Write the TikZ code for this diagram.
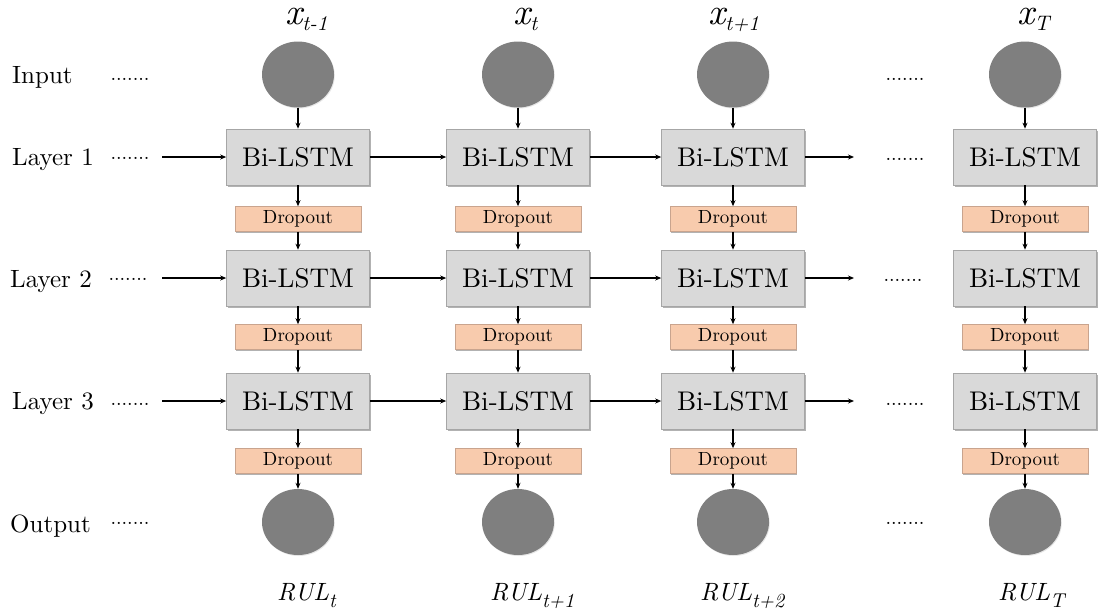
\documentclass[tikz,border=0pt]{standalone}
\usepackage{fontspec}
% the 10pt design of Latin Modern, scaled up, for its heavier strokes
\setmainfont{lmroman10-regular.otf}[ItalicFont=lmroman10-italic.otf]
\usetikzlibrary{shapes.geometric,arrows.meta,shadows}

\definecolor{cellgray}{HTML}{D9D9D9}
\definecolor{cellborder}{HTML}{A6A6A6}
\definecolor{droppeach}{HTML}{F8CBAD}
\definecolor{dropborder}{HTML}{C9A48E}
\definecolor{unitgray}{HTML}{7F7F7F}

\begin{document}
\begin{tikzpicture}[x=1pt,y=-1pt,
  softshadow/.style={drop shadow={shadow xshift=1pt,shadow yshift=-1.5pt,opacity=0.3,fill=black}},
  lstm/.style={rectangle, draw=cellborder, line width=0.6pt, fill=cellgray,
    minimum width=143pt, minimum height=56pt, inner sep=0pt,
    font=\fontsize{27}{32}\selectfont, softshadow},
  dropbox/.style={rectangle, draw=dropborder, line width=0.6pt, fill=droppeach,
    minimum width=126pt, minimum height=25pt, inner sep=0pt,
    font=\fontsize{19}{22}\selectfont, softshadow},
  unit/.style={ellipse, fill=unitgray, minimum width=72pt, minimum height=66pt,
    inner sep=0pt, drop shadow={shadow xshift=0.8pt,shadow yshift=-1pt,opacity=0.2}},
  flow/.style={-{Stealth[length=6pt,width=5pt]}, line width=1.1pt, black},
  rowlabel/.style={anchor=base west, inner sep=0pt, font=\fontsize{25}{30}\selectfont},
  ellipsis/.style={inner sep=0pt, font=\fontsize{20}{24}\selectfont},
  steplabel/.style={anchor=base west, inner sep=0pt}
]
\useasboundingbox (0,0) rectangle (1101,614);

% time steps: one column of the unrolled network per step
\foreach \c/\x in {1/298,2/518,3/733,4/1025}{
  \node[unit]    (in\c)  at (\x,74.5) {};
  \node[lstm]    (a\c)   at (\x,157)  {Bi-LSTM};
  \node[dropbox] (da\c)  at (\x,219)  {Dropout};
  \node[lstm]    (b\c)   at (\x,278)  {Bi-LSTM};
  \node[dropbox] (db\c)  at (\x,337)  {Dropout};
  \node[lstm]    (c\c)   at (\x,401)  {Bi-LSTM};
  \node[dropbox] (dc\c)  at (\x,461)  {Dropout};
  \node[unit]    (out\c) at (\x,522)  {};
  \draw[flow] (in\c) -- (a\c);
  \draw[flow] (a\c) -- (da\c);
  \draw[flow] (da\c) -- (b\c);
  \draw[flow] (b\c) -- (db\c);
  \draw[flow] (db\c) -- (c\c);
  \draw[flow] (c\c) -- (dc\c);
  \draw[flow] (dc\c) -- (out\c);
}

% row captions on the left
\node[rowlabel] (capin)  at (12,83)  {Input};
\node[rowlabel] (cap1)   at (12,165) {Layer 1};
\node[rowlabel] (cap2)   at (10,287) {Layer 2};
\node[rowlabel] (cap3)   at (12,409) {Layer 3};
\node[rowlabel] (capout) at (10,532) {Output};

% ellipses before the first step and before the last step
\node[ellipsis] (ldin)  at (130,79)  {.......};
\node[ellipsis] (ld1)   at (130,158) {.......};
\node[ellipsis] (ld2)   at (128,279) {.......};
\node[ellipsis] (ld3)   at (130,404) {.......};
\node[ellipsis] (ldout) at (130,523) {.......};
\node[ellipsis] (rdin)  at (905,79)  {.......};
\node[ellipsis] (rd1)   at (905,159) {.......};
\node[ellipsis] (rd2)   at (903,280) {.......};
\node[ellipsis] (rd3)   at (905,404) {.......};
\node[ellipsis] (rdout) at (905,523) {.......};

% recurrent connections along each layer
\coordinate (ea) at (162,157);
\coordinate (eb) at (162,278);
\coordinate (ec) at (162,401);
\coordinate (fa) at (854,157);
\coordinate (fb) at (854,278);
\coordinate (fc) at (854,401);
\draw[flow] (ea) -- (ea -| a1.west);
\draw[flow] (a1) -- (a2);
\draw[flow] (a2) -- (a3);
\draw[flow] (a3.east |- fa) -- (fa);
\draw[flow] (eb) -- (eb -| b1.west);
\draw[flow] (b1) -- (b2);
\draw[flow] (b2) -- (b3);
\draw[flow] (b3.east |- fb) -- (fb);
\draw[flow] (ec) -- (ec -| c1.west);
\draw[flow] (c1) -- (c2);
\draw[flow] (c2) -- (c3);
\draw[flow] (c3.east |- fc) -- (fc);

% input names above the columns
\node[steplabel] (x1) at (285,24)  {{\fontsize{37}{42}\selectfont\itshape x}\raisebox{-6pt}{\fontsize{21}{24}\selectfont\itshape t-1}};
\node[steplabel] (x2) at (513,24)  {{\fontsize{37}{42}\selectfont\itshape x}\raisebox{-6pt}{\fontsize{21}{24}\selectfont\itshape t}};
\node[steplabel] (x3) at (708,24)  {{\fontsize{37}{42}\selectfont\itshape x}\raisebox{-6pt}{\fontsize{21}{24}\selectfont\itshape t+1}};
\node[steplabel] (x4) at (1017,24) {{\fontsize{37}{42}\selectfont\itshape x}\raisebox{-6pt}{\fontsize{21}{24}\selectfont\itshape T}};

% outputs below the columns
\node[steplabel] (r1) at (277,600) {{\fontsize{25}{30}\selectfont\itshape RUL}\raisebox{-7pt}{\fontsize{20}{23}\selectfont\itshape t}};
\node[steplabel] (r2) at (490,600) {{\fontsize{25}{30}\selectfont\itshape RUL}\raisebox{-7pt}{\fontsize{20}{23}\selectfont\itshape t+1}};
\node[steplabel] (r3) at (700,600) {{\fontsize{25}{30}\selectfont\itshape RUL}\raisebox{-7pt}{\fontsize{20}{23}\selectfont\itshape t+2}};
\node[steplabel] (r4) at (998,600) {{\fontsize{25}{30}\selectfont\itshape RUL}\raisebox{-7pt}{\fontsize{20}{23}\selectfont\itshape T}};
\end{tikzpicture}
\end{document}
